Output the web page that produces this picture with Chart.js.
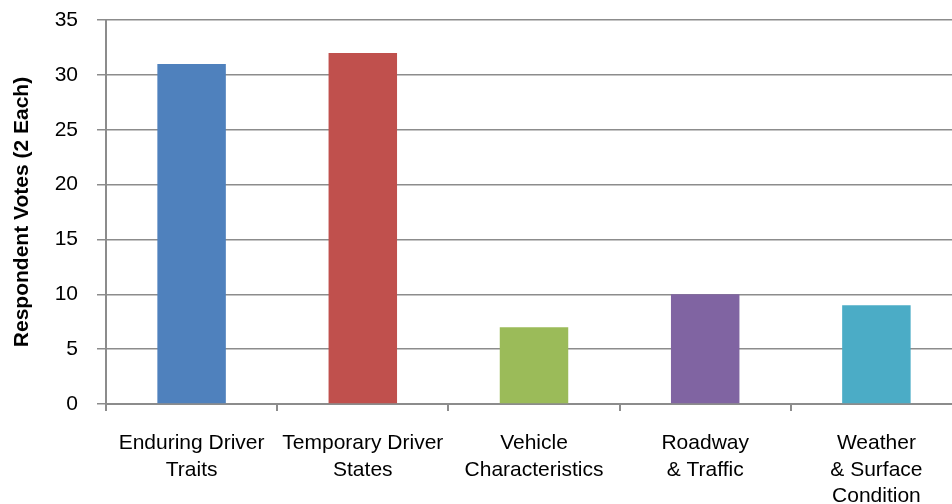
<!DOCTYPE html>
<html>
<head>
<meta charset="utf-8">
<script src="https://cdn.jsdelivr.net/npm/chart.js@4.4.1/dist/chart.umd.min.js"></script>
<style>
    html, body { margin: 0; padding: 0; background: #fff; overflow: hidden; }
    #wrap { width: 952px; height: 504px; overflow: hidden; }
</style>
</head>
<body>
<div id="wrap"><canvas id="votes-chart" width="962" height="504"></canvas></div>
<script>
// categories and votes
const categoryLabels = [
    ["Enduring Driver", "Traits"],
    ["Temporary Driver", "States"],
    ["Vehicle", "Characteristics"],
    ["Roadway", "& Traffic"],
    ["Weather", "& Surface", "Condition"],
];
const voteCounts = [31, 32, 7, 10, 9];
const barColors = ["#4F81BD", "#C0504D", "#9BBB59", "#8064A2", "#4BACC6"];
const yTicks = { min: 0, max: 35, step: 5 };

const lineGray = "#8c8c8c";
const fontFamily = "'Liberation Sans', Arial, Helvetica, sans-serif";

const configVotes = {
    type: "bar",
    data: {
        labels: categoryLabels,
        datasets: [
            {
                data: voteCounts,
                backgroundColor: barColors,
                borderWidth: 0,
                categoryPercentage: 1,
                barPercentage: 0.4,
            },
        ],
    },
    options: {
        responsive: false,
        animation: false,
        layout: {
            padding: { top: 20, left: 0, right: 0, bottom: 0 },
        },
        plugins: {
            legend: { display: false },
            tooltip: { enabled: false },
        },
        scales: {
            x: {
                grid: {
                    display: true,
                    offset: true,
                    drawOnChartArea: false,
                    drawTicks: true,
                    tickLength: 7,
                    color: lineGray,
                    lineWidth: 2,
                },
                border: {
                    display: true,
                    color: lineGray,
                    width: 2,
                },
                ticks: {
                    color: "#000",
                    padding: 19,
                    maxRotation: 0,
                    autoSkip: false,
                    font: { family: fontFamily, size: 21, lineHeight: 1.27 },
                },
                afterFit: function (scale) {
                    scale.height = 100;
                    scale.paddingLeft = 0;
                    scale.paddingRight = 0;
                },
            },
            y: {
                min: yTicks.min,
                max: yTicks.max,
                grid: {
                    color: lineGray,
                    lineWidth: 1.5,
                    tickLength: 9,
                },
                border: {
                    display: true,
                    color: lineGray,
                    width: 2,
                },
                ticks: {
                    stepSize: yTicks.step,
                    color: "#000",
                    padding: 19,
                    font: { family: fontFamily, size: 21 },
                },
                title: {
                    display: true,
                    text: "Respondent Votes (2 Each)",
                    color: "#000",
                    padding: { top: 10, bottom: 0 },
                    font: { family: fontFamily, size: 21, weight: "bold" },
                },
                afterFit: function (scale) {
                    scale.width = 106;
                    scale.paddingTop = 0;
                    scale.paddingBottom = 0;
                },
            },
        },
    },
};

// render
const ctxVotes = document.getElementById("votes-chart");
new Chart(ctxVotes, configVotes);
</script>
</body>
</html>
